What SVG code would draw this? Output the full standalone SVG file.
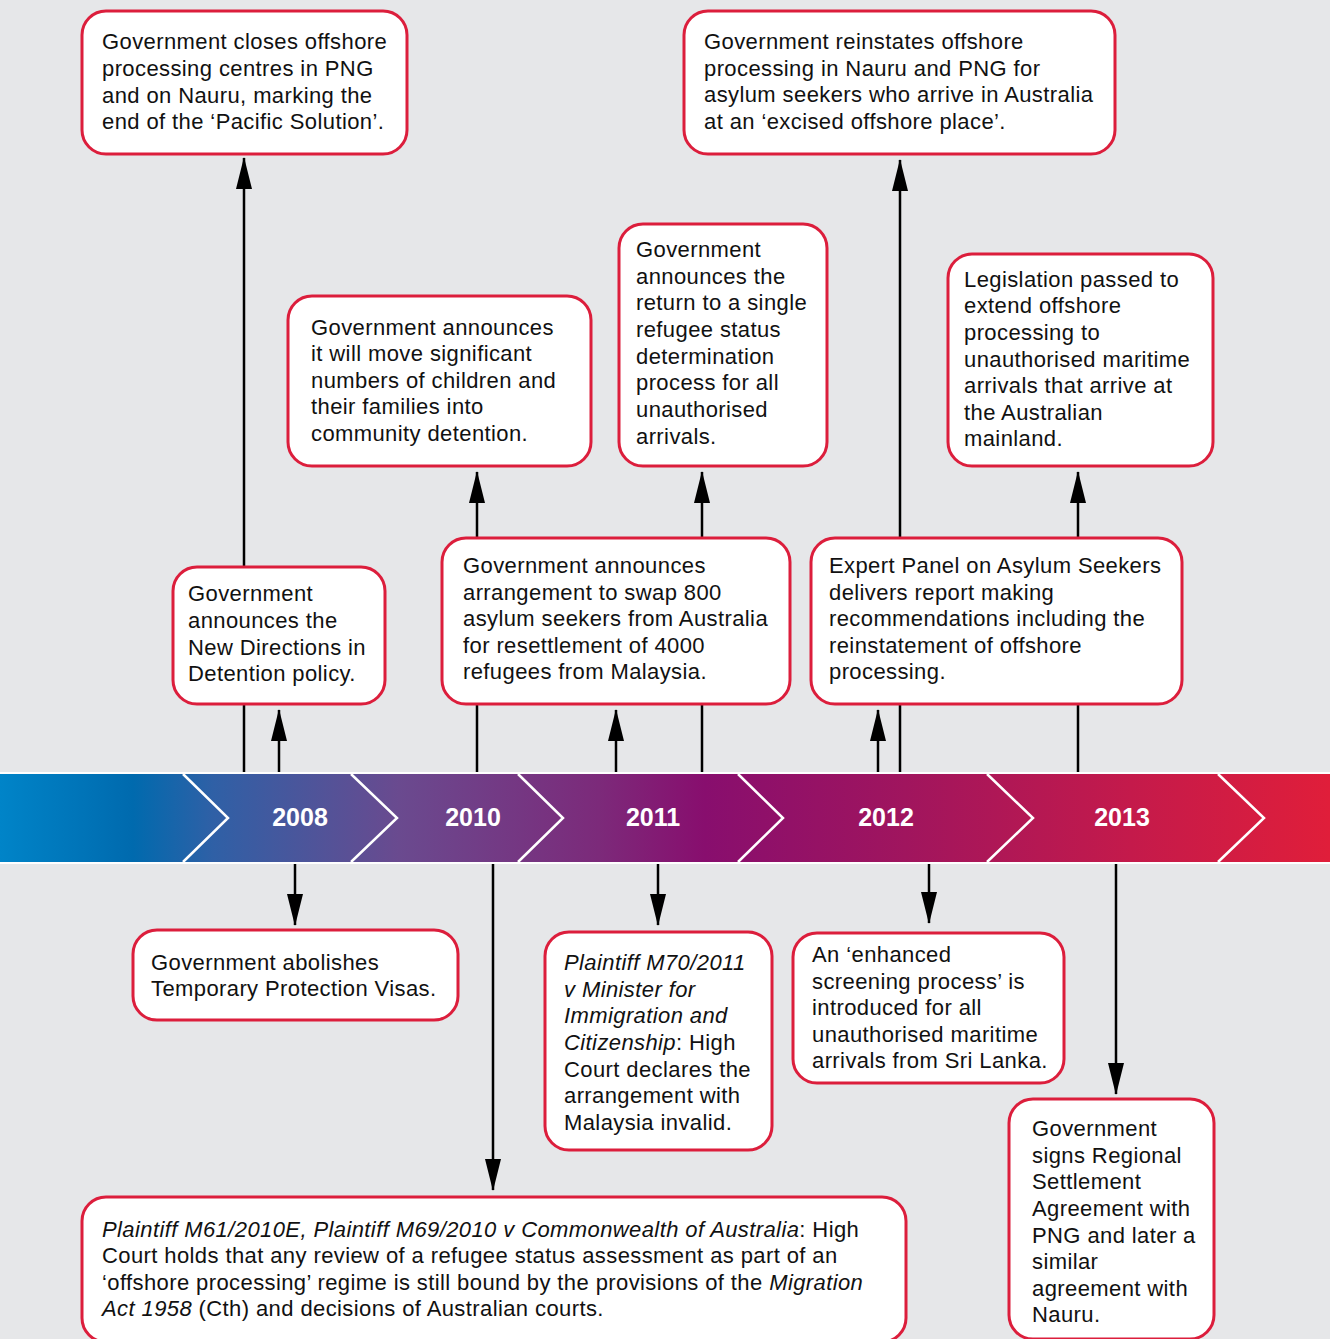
<svg xmlns="http://www.w3.org/2000/svg" width="1330" height="1339" viewBox="0 0 1330 1339">
<defs>
<linearGradient id="band" x1="0" y1="0" x2="1330" y2="0" gradientUnits="userSpaceOnUse">
<stop offset="0" stop-color="#0084c8"/>
<stop offset="0.1" stop-color="#006aae"/>
<stop offset="0.16" stop-color="#2f60a6"/>
<stop offset="0.3" stop-color="#6a4a8f"/>
<stop offset="0.45" stop-color="#7c2a7a"/>
<stop offset="0.53" stop-color="#880e6e"/>
<stop offset="0.68" stop-color="#a0155e"/>
<stop offset="0.85" stop-color="#c41a4b"/>
<stop offset="1" stop-color="#e01e3a"/>
</linearGradient>
<marker id="ah" viewBox="0 0 32 16" refX="31" refY="8" markerWidth="32" markerHeight="16" markerUnits="userSpaceOnUse" orient="auto">
<path d="M0,0 L32,8 L0,16 z" fill="#000"/>
</marker>
</defs>
<style>
.box{fill:#fff;stroke:#dc1e3c;stroke-width:3}
.t{font-family:"Liberation Sans",Arial,Helvetica,sans-serif;font-size:22px;letter-spacing:0.4px;fill:#111}
.i{font-style:italic}
.yr{font-family:"Liberation Sans",Arial,Helvetica,sans-serif;font-size:25px;font-weight:bold;fill:#fff;text-anchor:middle}
.c{stroke:#000;stroke-width:2.5;fill:none}
.ca{stroke:#000;stroke-width:2.5;fill:none;marker-end:url(#ah)}
.chev{stroke:#fff;stroke-width:2.5;fill:none}
</style>
<rect x="0" y="0" width="1330" height="1339" fill="#e6e7e9"/>
<g id="timeline">
<rect x="0" y="772" width="1330" height="92" fill="#fff"/>
<rect x="0" y="774" width="1330" height="88" fill="url(#band)"/>
<path class="chev" d="M183,774 L228,818 L183,862"/>
<path class="chev" d="M351,774 L397,818 L351,862"/>
<path class="chev" d="M518,774 L563,818 L518,862"/>
<path class="chev" d="M738,774 L783,818 L738,862"/>
<path class="chev" d="M987,774 L1033,818 L987,862"/>
<path class="chev" d="M1218,774 L1264,818 L1218,862"/>
<text class="yr" x="300" y="826">2008</text>
<text class="yr" x="473" y="826">2010</text>
<text class="yr" x="653" y="826">2011</text>
<text class="yr" x="886" y="826">2012</text>
<text class="yr" x="1122" y="826">2013</text>
</g>
<g id="connectors">
<line class="ca" x1="244" y1="772" x2="244" y2="158"/>
<line class="ca" x1="279" y1="772" x2="279" y2="710"/>
<line class="ca" x1="477" y1="772" x2="477" y2="472"/>
<line class="ca" x1="616" y1="772" x2="616" y2="710"/>
<line class="ca" x1="702" y1="772" x2="702" y2="472"/>
<line class="ca" x1="878" y1="772" x2="878" y2="710"/>
<line class="ca" x1="900" y1="772" x2="900" y2="160"/>
<line class="ca" x1="1078" y1="772" x2="1078" y2="472"/>
<line class="ca" x1="295" y1="864" x2="295" y2="925"/>
<line class="ca" x1="493" y1="864" x2="493" y2="1190"/>
<line class="ca" x1="658" y1="864" x2="658" y2="925"/>
<line class="ca" x1="929" y1="864" x2="929" y2="923"/>
<line class="ca" x1="1116" y1="864" x2="1116" y2="1094"/>
</g>
<g id="n-closes">
<rect class="box" x="82" y="11" width="325" height="143" rx="24"/>
<text class="t" x="102" y="49">Government closes offshore</text>
<text class="t" x="102" y="76">processing centres in PNG</text>
<text class="t" x="102" y="103">and on Nauru, marking the</text>
<text class="t" x="102" y="129">end of the ‘Pacific Solution’.</text>
</g>
<g id="n-reinstates">
<rect class="box" x="684" y="11" width="431" height="143" rx="24"/>
<text class="t" x="704" y="49">Government reinstates offshore</text>
<text class="t" x="704" y="76">processing in Nauru and PNG for</text>
<text class="t" x="704" y="102">asylum seekers who arrive in Australia</text>
<text class="t" x="704" y="129">at an ‘excised offshore place’.</text>
</g>
<g id="n-children">
<rect class="box" x="288" y="296" width="303" height="170" rx="24"/>
<text class="t" x="311" y="335">Government announces</text>
<text class="t" x="311" y="361">it will move significant</text>
<text class="t" x="311" y="388">numbers of children and</text>
<text class="t" x="311" y="414">their families into</text>
<text class="t" x="311" y="441">community detention.</text>
</g>
<g id="n-single">
<rect class="box" x="619" y="224" width="208" height="242" rx="24"/>
<text class="t" x="636" y="257">Government</text>
<text class="t" x="636" y="284">announces the</text>
<text class="t" x="636" y="310">return to a single</text>
<text class="t" x="636" y="337">refugee status</text>
<text class="t" x="636" y="364">determination</text>
<text class="t" x="636" y="390">process for all</text>
<text class="t" x="636" y="417">unauthorised</text>
<text class="t" x="636" y="444">arrivals.</text>
</g>
<g id="n-legislation">
<rect class="box" x="948" y="254" width="265" height="212" rx="24"/>
<text class="t" x="964" y="287">Legislation passed to</text>
<text class="t" x="964" y="313">extend offshore</text>
<text class="t" x="964" y="340">processing to</text>
<text class="t" x="964" y="367">unauthorised maritime</text>
<text class="t" x="964" y="393">arrivals that arrive at</text>
<text class="t" x="964" y="420">the Australian</text>
<text class="t" x="964" y="446">mainland.</text>
</g>
<g id="n-newdirections">
<rect class="box" x="173" y="567" width="212" height="137" rx="24"/>
<text class="t" x="188" y="601">Government</text>
<text class="t" x="188" y="628">announces the</text>
<text class="t" x="188" y="655">New Directions in</text>
<text class="t" x="188" y="681">Detention policy.</text>
</g>
<g id="n-malaysia">
<rect class="box" x="442" y="538" width="348" height="166" rx="24"/>
<text class="t" x="463" y="573">Government announces</text>
<text class="t" x="463" y="600">arrangement to swap 800</text>
<text class="t" x="463" y="626">asylum seekers from Australia</text>
<text class="t" x="463" y="653">for resettlement of 4000</text>
<text class="t" x="463" y="679">refugees from Malaysia.</text>
</g>
<g id="n-expert">
<rect class="box" x="811" y="538" width="371" height="166" rx="24"/>
<text class="t" x="829" y="573">Expert Panel on Asylum Seekers</text>
<text class="t" x="829" y="600">delivers report making</text>
<text class="t" x="829" y="626">recommendations including the</text>
<text class="t" x="829" y="653">reinstatement of offshore</text>
<text class="t" x="829" y="679">processing.</text>
</g>
<g id="n-tpv">
<rect class="box" x="133" y="930" width="325" height="90" rx="24"/>
<text class="t" x="151" y="970">Government abolishes</text>
<text class="t" x="151" y="996">Temporary Protection Visas.</text>
</g>
<g id="n-m70">
<rect class="box" x="545" y="932" width="227" height="218" rx="24"/>
<text class="t i" x="564" y="970">Plaintiff M70/2011</text>
<text class="t i" x="564" y="997">v Minister for</text>
<text class="t i" x="564" y="1023">Immigration and</text>
<text class="t" x="564" y="1050"><tspan class="i">Citizenship</tspan>: High</text>
<text class="t" x="564" y="1077">Court declares the</text>
<text class="t" x="564" y="1103">arrangement with</text>
<text class="t" x="564" y="1130">Malaysia invalid.</text>
</g>
<g id="n-screening">
<rect class="box" x="793" y="933" width="271" height="150" rx="24"/>
<text class="t" x="812" y="962">An ‘enhanced</text>
<text class="t" x="812" y="989">screening process’ is</text>
<text class="t" x="812" y="1015">introduced for all</text>
<text class="t" x="812" y="1042">unauthorised maritime</text>
<text class="t" x="812" y="1068">arrivals from Sri Lanka.</text>
</g>
<g id="n-regional">
<rect class="box" x="1009" y="1099" width="205" height="240" rx="24"/>
<text class="t" x="1032" y="1136">Government</text>
<text class="t" x="1032" y="1163">signs Regional</text>
<text class="t" x="1032" y="1189">Settlement</text>
<text class="t" x="1032" y="1216">Agreement with</text>
<text class="t" x="1032" y="1243">PNG and later a</text>
<text class="t" x="1032" y="1269">similar</text>
<text class="t" x="1032" y="1296">agreement with</text>
<text class="t" x="1032" y="1322">Nauru.</text>
</g>
<g id="n-m61">
<rect class="box" x="82" y="1197" width="824" height="145" rx="24"/>
<text class="t" x="102" y="1237"><tspan class="i">Plaintiff M61/2010E, Plaintiff M69/2010 v Commonwealth of Australia</tspan>: High</text>
<text class="t" x="102" y="1263">Court holds that any review of a refugee status assessment as part of an</text>
<text class="t" x="102" y="1290">‘offshore processing’ regime is still bound by the provisions of the <tspan class="i">Migration</tspan></text>
<text class="t" x="102" y="1316"><tspan class="i">Act 1958</tspan> (Cth) and decisions of Australian courts.</text>
</g>
</svg>
